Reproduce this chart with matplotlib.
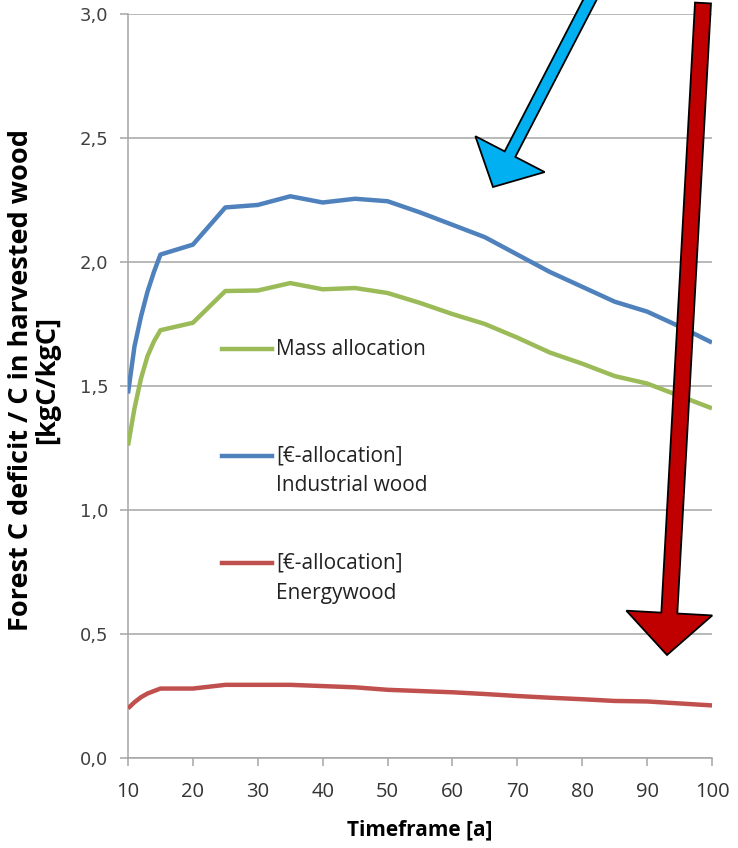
import matplotlib
matplotlib.use("Agg")
from matplotlib import pyplot as plt
from matplotlib.patches import FancyArrow
from matplotlib.lines import Line2D
from matplotlib.transforms import Affine2D

# timeframe [a]
years = [10, 11, 12, 13, 14, 15, 20, 25, 30, 35, 40, 45, 50,
         55, 60, 65, 70, 75, 80, 85, 90, 95, 100]

mass = [1.26, 1.41, 1.53, 1.62, 1.68, 1.725, 1.755, 1.883, 1.885, 1.915, 1.89, 1.895, 1.875,
        1.835, 1.79, 1.75, 1.695, 1.635, 1.59, 1.54, 1.51, 1.46, 1.41]
industrial = [1.47, 1.66, 1.78, 1.88, 1.96, 2.03, 2.07, 2.22, 2.23, 2.265, 2.24, 2.255, 2.245,
              2.20, 2.15, 2.10, 2.03, 1.96, 1.90, 1.84, 1.80, 1.74, 1.675]
energy = [0.20, 0.225, 0.245, 0.26, 0.27, 0.28, 0.28, 0.295, 0.295, 0.295, 0.29, 0.285, 0.275,
          0.27, 0.265, 0.258, 0.25, 0.243, 0.237, 0.23, 0.228, 0.22, 0.212]

labels = ["Mass allocation",
          "[€-allocation]\nIndustrial wood",
          "[€-allocation]\nEnergywood"]
colors = ["#9BBB59", "#4F81BD", "#C0504D"]

W, H = 738, 848
fig = plt.figure(figsize=(W / 100, H / 100), dpi=100)
ax = fig.add_axes([128 / W, 1 - 758 / H, 584 / W, 744 / H])

for ys, c in zip([mass, industrial, energy], colors):
    ax.plot(years, ys, color=c, lw=3.2, solid_capstyle="butt", zorder=3)

ax.set_xlim(10, 100)
ax.set_ylim(0, 3.0)
ax.set_xticks(range(10, 101, 10))
yt = [0.0, 0.5, 1.0, 1.5, 2.0, 2.5, 3.0]
ax.set_yticks(yt)
ax.set_yticklabels([f"{v:.1f}".replace(".", ",") for v in yt],
                   fontsize=13, color="#404040", family="DejaVu Sans")
for lab in ax.get_xticklabels():
    lab.set_family("Open Sans")
    lab.set_fontsize(14.5)
    lab.set_color("#333333")

ax.grid(axis="y", color="#A6A6A6", lw=1.1, zorder=0)
ax.set_axisbelow(True)
for s in ["top", "right"]:
    ax.spines[s].set_visible(False)
for s in ["left", "bottom"]:
    ax.spines[s].set_color("#A6A6A6")
    ax.spines[s].set_linewidth(1.1)
ax.tick_params(axis="both", color="#A6A6A6", width=1.1, length=6)
ax.tick_params(axis="x", pad=11)
ax.tick_params(axis="y", pad=8)

ax.set_xlabel("Timeframe [a]", family="Open Sans", fontweight="bold",
              fontsize=15, labelpad=13)
fig.text(34 / W, 1 - 380 / H, "Forest C deficit / C in harvested wood\n[kgC/kgC]",
         rotation=90, ha="center", va="center", family="Open Sans",
         fontweight="bold", fontsize=19.5, linespacing=1.0)

# inline legend
leg_y = [0.5497, 0.406, 0.262]
for lab, c, y in zip(labels, colors, leg_y):
    ax.add_line(Line2D([0.161, 0.247], [y, y], transform=ax.transAxes,
                       color=c, lw=3.2, zorder=4))
    for i, part in enumerate(lab.split("\n")):
        ax.text(0.253, y - i * 0.0403, part, transform=ax.transAxes,
                va="center", ha="left", family="Open Sans", fontsize=15,
                color="#222222", zorder=4)

# arrows, in reference pixel coordinates
px = Affine2D().scale(1 / W, -1 / H).translate(0, 1) + fig.transFigure
blue = FancyArrow(596, -12, -103, 199, width=12, head_width=78, head_length=37,
                  length_includes_head=True, transform=px, facecolor="#00B0F0",
                  edgecolor="black", lw=1.3, clip_on=False, zorder=10)
red = FancyArrow(703, 3, -36, 652, width=16, head_width=86, head_length=42,
                 length_includes_head=True, transform=px, facecolor="#C00000",
                 edgecolor="black", lw=1.3, clip_on=False, zorder=10)
fig.add_artist(blue)
fig.add_artist(red)

fig.savefig("out.png", dpi=100)
